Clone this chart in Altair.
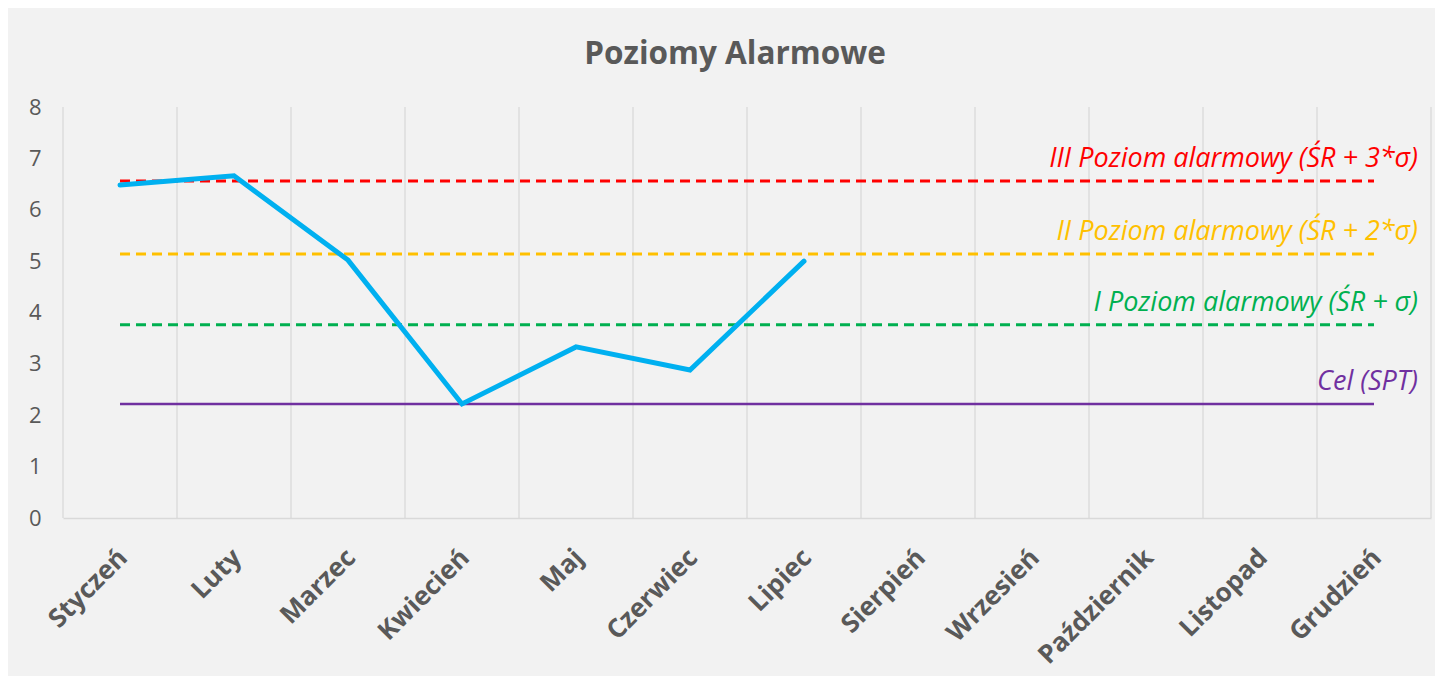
import altair as alt
import pandas as pd

months = ["Styczeń", "Luty", "Marzec", "Kwiecień", "Maj", "Czerwiec", "Lipiec",
          "Sierpień", "Wrzesień", "Październik", "Listopad", "Grudzień"]
values = [6.48, 6.66, 5.02, 2.22, 3.33, 2.88, 5.0, None, None, None, None, None]

level_names = ["III Poziom alarmowy (ŚR + 3*σ)", "II Poziom alarmowy (ŚR + 2*σ)",
               "I Poziom alarmowy (ŚR + σ)", "Cel (SPT)"]
level_values = [6.56, 5.14, 3.76, 2.22]
level_colors = ["#FF0000", "#FFC000", "#00B050", "#7030A0"]
level_dashed = [True, True, True, False]

title_text = "Poziomy Alarmowe"

W, H = 1368, 411
FONT = "Open Sans"
GREY = "#595959"

xscale = alt.Scale(type="band", domain=months, paddingInner=0, paddingOuter=0)
yscale = alt.Scale(domain=[0, 8], nice=False)

xaxis = alt.Axis(title=None, labelAngle=-45, labelAlign="right", labelBaseline="top",
                 labelFont=FONT, labelFontSize=26, labelFontWeight="bold",
                 labelColor=GREY, labelPadding=26, labelOffset=-6, ticks=False, grid=False,
                 domainColor="#D9D9D9", domainWidth=1.3, labelOverlap=False)
yaxis = alt.Axis(title=None, values=list(range(9)), labelFont=FONT, labelFontSize=22,
                 labelColor=GREY, labelPadding=22, ticks=False, domain=False, grid=False)

df = pd.DataFrame({"month": months, "value": values})
line_df = df.dropna()

grid = alt.Chart(pd.DataFrame({"month": months})).mark_rule(
    color="#D9D9D9", strokeWidth=1.3
).encode(
    x=alt.X("month:N", scale=xscale, bandPosition=0, axis=xaxis, sort=months),
    y=alt.value(0), y2=alt.value(H)
)
grid_end = alt.Chart(pd.DataFrame({"month": [months[-1]]})).mark_rule(
    color="#D9D9D9", strokeWidth=1.3
).encode(
    x=alt.X("month:N", scale=xscale, bandPosition=1, axis=xaxis, sort=months),
    y=alt.value(0), y2=alt.value(H)
)

layers = [grid, grid_end]
for name, val, col, dashed in zip(level_names, level_values, level_colors, level_dashed):
    ldf = pd.DataFrame({"start": [months[0]], "end": [months[-1]], "value": [val], "label": [name]})
    rule = alt.Chart(ldf).mark_rule(
        color=col, strokeWidth=3 if dashed else 2.5,
        strokeDash=[10, 6] if dashed else [1, 0]
    ).encode(
        x=alt.X("start:N", scale=xscale, bandPosition=0.5, axis=xaxis),
        x2=alt.X2("end", bandPosition=0.5),
        y=alt.Y("value:Q", scale=yscale, axis=yaxis),
    )
    txt = alt.Chart(ldf).mark_text(
        color=col, font=FONT, fontSize=27, fontStyle="italic",
        align="right", baseline="middle", dy=-22
    ).encode(
        x=alt.value(1355),
        y=alt.Y("value:Q", scale=yscale, axis=yaxis),
        text="label:N",
    )
    layers += [rule, txt]

line = alt.Chart(line_df).mark_line(
    color="#00B0F0", strokeWidth=5, strokeCap="round", strokeJoin="miter"
).encode(
    x=alt.X("month:N", scale=xscale, bandPosition=0.5, sort=months, axis=xaxis),
    y=alt.Y("value:Q", scale=yscale, axis=yaxis),
)
layers.append(line)

title = alt.Chart(pd.DataFrame({"t": [title_text]})).mark_text(
    font=FONT, fontSize=31.5, fontWeight="bold", color=GREY, align="center", baseline="middle"
).encode(x=alt.value(672), y=alt.value(-52), text="t:N")
layers.append(title)

chart = alt.layer(*layers).properties(
    width=W, height=H,
    autosize=alt.AutoSizeParams(type="none"),
    padding={"left": 55, "top": 99, "right": 4, "bottom": 158},
    background="#F2F2F2",
).configure_view(stroke=None)

chart.save("out.html", embed_options={"renderer": "svg", "actions": False})
